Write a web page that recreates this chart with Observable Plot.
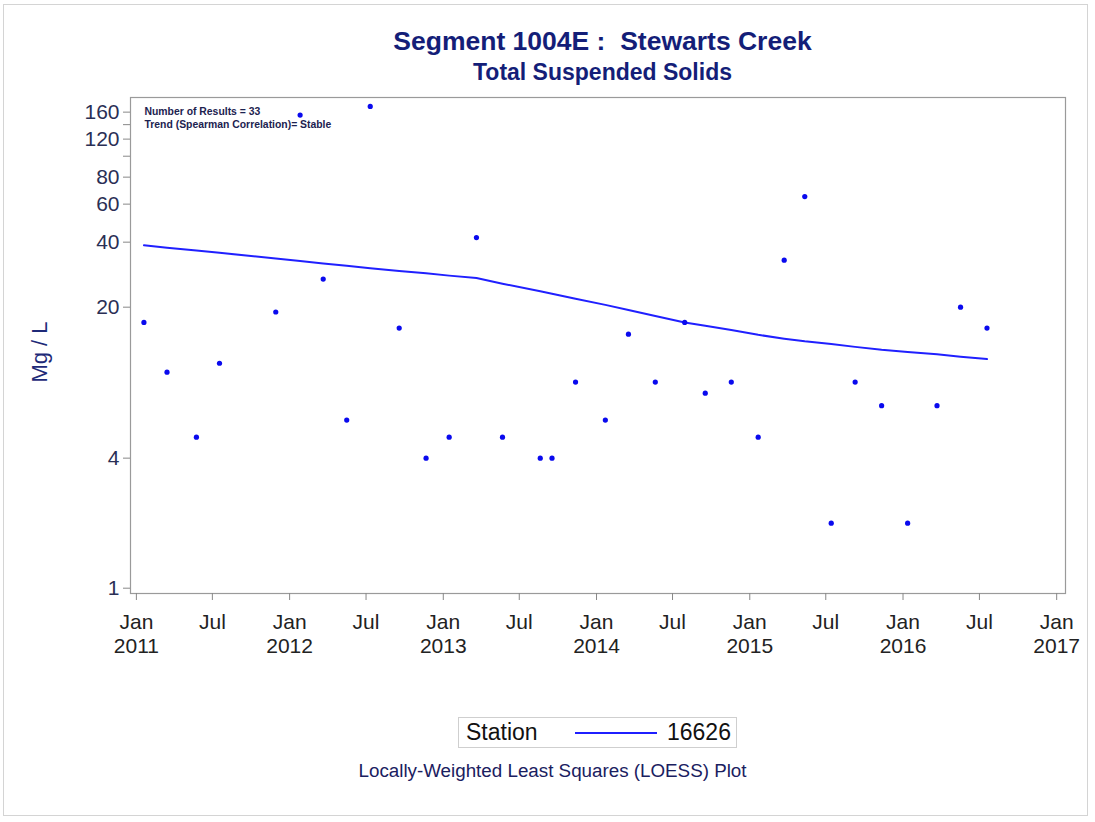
<!DOCTYPE html>
<html>
<head>
<meta charset="utf-8">
<script src="https://cdn.jsdelivr.net/npm/d3@7"></script>
<script src="https://cdn.jsdelivr.net/npm/@observablehq/plot@0.6"></script>
<style>
  html, body { margin: 0; padding: 0; background: #fff; }
  body { width: 1095px; height: 822px; position: relative; overflow: hidden; font-family: "Liberation Sans", Arial, sans-serif; }
  #border { position: absolute; left: 3px; top: 4px; width: 1085px; height: 812px; border: 1px solid #d4d4d4; box-sizing: border-box; }
  .title { position: absolute; left: 0; width: 1205px; text-align: center; color: #141e78; font-weight: bold; }
  #t1 { top: 26px; font-size: 26.5px; }
  #t2 { top: 59px; font-size: 23px; }
  #ylab { position: absolute; left: 40px; top: 352px; transform: translate(-50%, -50%) rotate(-90deg); color: #1e2a78; font-size: 22px; white-space: nowrap; }
  #chart { position: absolute; left: 0; top: 90px; }
  #legend { position: absolute; left: 458px; top: 717px; width: 279px; height: 31px; border: 1px solid #cfcfcf; box-sizing: border-box; font-size: 23px; color: #111; }
  #legend .lab { position: absolute; left: 7px; top: 1px; }
  #legend .sw { position: absolute; left: 116px; top: 14px; width: 82px; height: 0; border-top: 2px solid #1f1fff; }
  #legend .val { position: absolute; left: 208px; top: 1px; }
  #caption { position: absolute; left: 0; width: 1105px; text-align: center; top: 760px; font-size: 18.8px; color: #1a2060; }
</style>
</head>
<body>
<div id="border"></div>
<div class="title" id="t1">Segment 1004E :&nbsp; Stewarts Creek</div>
<div class="title" id="t2">Total Suspended Solids</div>
<div id="ylab">Mg / L</div>
<div id="chart"></div>
<div id="legend"><span class="lab">Station</span><span class="sw"></span><span class="val">16626</span></div>
<div id="caption">Locally-Weighted Least Squares (LOESS) Plot</div>
<script>
// Sample dates (Station 16626)
const sampleDates = [
  "2011-01-19","2011-03-15","2011-05-24","2011-07-18","2011-11-29",
  "2012-01-26","2012-03-21","2012-05-16","2012-07-11","2012-09-18","2012-11-21",
  "2013-01-15","2013-03-21","2013-05-22","2013-08-20","2013-09-17","2013-11-12",
  "2014-01-22","2014-03-18","2014-05-21","2014-07-30","2014-09-17","2014-11-18",
  "2015-01-21","2015-03-24","2015-05-12","2015-07-14","2015-09-09","2015-11-11",
  "2016-01-12","2016-03-22","2016-05-17","2016-07-19"
];
// Total suspended solids, Mg/L
const tssValues = [
  17, 10, 5, 11, 19,
  155, 27, 6, 170, 16, 4,
  5, 42, 5, 4, 4, 9,
  6, 15, 9, 17, 8, 9,
  5, 33, 65, 2, 9, 7,
  2, 7, 20, 16
];
// LOESS fit at each sample date
const loessValues = [
  38.7, 37.7, 36.6, 35.7, 33.6,
  32.7, 31.9, 31.1, 30.3, 29.4, 28.7,
  28.0, 27.3, 25.7, 23.7, 23.1, 21.9,
  20.5, 19.4, 18.2, 17.0, 16.4, 15.7,
  14.9, 14.3, 13.9, 13.5, 13.1, 12.7,
  12.4, 12.1, 11.8, 11.5
];
const yTicks = [1, 4, 20, 40, 60, 80, 100, 120, 140, 160];
const yTickLabels = [1, 4, 20, 40, 60, 80, 120, 160];
const xTicks = [
  "2011-01-01","2011-07-01","2012-01-01","2012-07-01","2013-01-01","2013-07-01",
  "2014-01-01","2014-07-01","2015-01-01","2015-07-01","2016-01-01","2016-07-01","2017-01-01"
];
const xDomain = ["2010-12-18", "2017-01-22"];
const yDomain = [0.945, 187];
const annotation = "Number of Results = 33\nTrend (Spearman Correlation)= Stable";

const pts = sampleDates.map((d, i) => ({date: new Date(d + "T00:00:00Z"), v: tssValues[i], fit: loessValues[i]}));

const chart = Plot.plot({
  width: 1095,
  height: 590,
  marginLeft: 130,
  marginRight: 30,
  marginTop: 7,
  marginBottom: 87,
  style: {fontFamily: "'Liberation Sans', Arial, sans-serif", background: "transparent", overflow: "visible"},
  x: {type: "utc", domain: xDomain.map(d => new Date(d + "T00:00:00Z"))},
  y: {type: "log", domain: yDomain},
  marks: [
    Plot.frame({stroke: "#9a9a9a", strokeWidth: 1.2}),
    // tick lines (including unlabeled minor ticks)
    Plot.axisY({
      ticks: yTicks, tickFormat: () => "",
      tickSize: 7, stroke: "#888", label: null
    }),
    // tick labels, placed through the y scale
    Plot.text(yTickLabels, {
      y: d => d, text: d => String(d), frameAnchor: "left",
      textAnchor: "end", dx: -11, fontSize: 21, fill: "#2a2f55"
    }),
    Plot.axisX({
      ticks: xTicks.map(d => new Date(d + "T00:00:00Z")),
      tickFormat: d => d.getUTCMonth() === 0 ? `Jan\n${d.getUTCFullYear()}` : "Jul",
      tickSize: 7, tickPadding: 11, fontSize: 21, lineHeight: 1.15,
      stroke: "#888", fill: "#222", label: null
    }),
    Plot.line(pts, {x: "date", y: "fit", stroke: "#2020ff", strokeWidth: 2}),
    Plot.dot(pts, {x: "date", y: "v", r: 2.6, fill: "#0a0aee", stroke: "none"}),
    Plot.text([annotation], {
      frameAnchor: "top-left", textAnchor: "start", lineAnchor: "top",
      dx: 14, dy: 9, fontSize: 10.4, fontWeight: "bold", fill: "#1c2250", lineHeight: 1.2
    })
  ]
});
document.getElementById("chart").appendChild(chart);
</script>
</body>
</html>
